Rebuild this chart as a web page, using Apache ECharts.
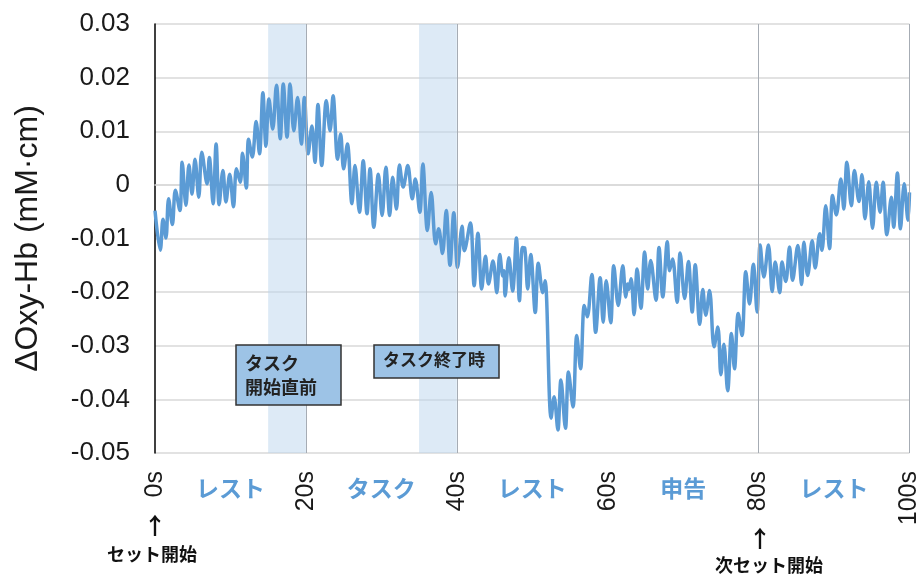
<!DOCTYPE html>
<html>
<head>
<meta charset="utf-8">
<script src="https://cdn.jsdelivr.net/npm/echarts@6/dist/echarts.min.js"></script>
<style>html,body{margin:0;padding:0;background:#fff}#c{width:922px;height:579px}</style>
</head>
<body>
<div id="c"></div>
<script>
// Time (s) of each read extreme of the trace
const timeSec = [
0.0,0.7,1.06,1.45,1.8,2.3,2.7,3.3,3.6,4.1,4.5,4.9,5.3,5.8,6.2,6.9,7.2,7.7,8.1,8.5,
9.0,9.4,9.9,10.4,10.8,11.3,11.6,12.1,12.4,12.9,13.4,13.85,14.3,14.7,15.1,15.6,16.1,16.6,17.0,17.5,
17.9,18.4,18.9,19.4,19.8,20.3,20.8,21.2,21.6,22.1,22.7,23.2,23.6,24.2,24.6,25.0,25.5,26.1,26.5,27.1,
27.6,28.1,28.5,29.0,29.6,30.1,30.6,31.1,31.5,32.0,32.4,32.9,33.5,34.1,34.5,35.1,35.5,36.1,36.6,37.2,
37.6,38.1,38.6,39.1,39.6,40.1,40.7,41.0,41.8,42.3,42.8,43.3,43.8,44.2,44.8,45.3,45.7,46.1,46.25,46.4,
46.9,47.4,47.9,48.3,48.7,49.0,49.4,49.8,50.4,50.8,51.4,51.7,52.5,52.9,53.4,53.8,54.4,54.8,55.4,55.9,
56.4,56.9,57.3,57.9,58.4,59.0,59.4,59.8,60.4,60.8,61.4,62.0,62.4,62.65,62.8,63.1,63.5,63.9,64.4,64.9,
65.3,65.7,66.4,66.8,67.3,67.9,68.2,68.6,69.2,69.6,70.2,70.7,71.2,71.6,72.2,72.6,73.0,73.5,74.1,74.6,
75.0,75.4,75.9,76.4,76.8,77.3,77.8,78.3,78.8,79.3,79.8,80.2,80.7,81.3,81.8,82.2,82.8,83.1,83.6,84.1,
84.5,85.2,85.7,86.0,86.5,87.1,87.5,88.1,88.4,88.9,89.4,89.8,90.3,90.9,91.3,91.7,92.3,92.7,93.3,93.7,
94.1,94.6,95.1,95.6,96.1,96.5,97.0,97.6,97.9,98.4,98.8,99.3,99.8,100.0
];
// ΔOxy-Hb (mM·cm) at those times
const oxyHb = [
-0.0048,-0.0122,-0.0064,-0.0099,-0.0026,-0.0074,-0.0010,-0.0048,0.0042,-0.0038,0.0037,-0.0017,0.0048,-0.0023,0.0061,0.0002,0.0051,-0.0035,0.0076,-0.0037,
0.0027,-0.0032,0.0020,-0.0041,0.0030,0.0005,0.0059,-0.0006,0.0085,0.0052,0.0118,0.0058,0.0172,0.0072,0.0160,0.0104,0.0186,0.0086,0.0188,0.0089,
0.0188,0.0101,0.0163,0.0076,0.0163,0.0058,0.0110,0.0042,0.0150,0.0036,0.0157,0.0101,0.0166,0.0048,0.0095,0.0030,0.0076,-0.0035,0.0036,-0.0051,
0.0045,-0.0054,0.0030,-0.0079,0.0020,-0.0057,0.0033,-0.0057,0.0014,-0.0045,0.0037,-0.0004,0.0036,-0.0026,0.0011,-0.0051,0.0039,-0.0085,-0.0014,-0.0110,
-0.0082,-0.0128,-0.0048,-0.0150,-0.0052,-0.0154,-0.0077,-0.0123,-0.0071,-0.0188,-0.0090,-0.0194,-0.0133,-0.0185,-0.0142,-0.0201,-0.0130,-0.0170,-0.0160,-0.0207,
-0.0136,-0.0198,-0.0099,-0.0216,-0.0117,-0.0118,-0.0194,-0.0130,-0.0238,-0.0146,-0.0201,-0.0179,-0.0435,-0.0395,-0.0457,-0.0364,-0.0454,-0.0349,-0.0414,-0.0281,
-0.0343,-0.0225,-0.0246,-0.0167,-0.0275,-0.0173,-0.0256,-0.0179,-0.0257,-0.0151,-0.0225,-0.0151,-0.0209,-0.0185,-0.0195,-0.0175,-0.0242,-0.0157,-0.0230,-0.0125,
-0.0194,-0.0141,-0.0215,-0.0117,-0.0209,-0.0106,-0.0160,-0.0138,-0.0219,-0.0127,-0.0212,-0.0143,-0.0237,-0.0149,-0.0260,-0.0195,-0.0243,-0.0197,-0.0302,-0.0265,
-0.0354,-0.0297,-0.0384,-0.0277,-0.0343,-0.0240,-0.0281,-0.0162,-0.0222,-0.0148,-0.0237,-0.0112,-0.0172,-0.0112,-0.0199,-0.0144,-0.0201,-0.0144,-0.0180,-0.0116,
-0.0178,-0.0113,-0.0186,-0.0107,-0.0169,-0.0104,-0.0155,-0.0091,-0.0122,-0.0039,-0.0119,-0.0020,-0.0056,0.0011,-0.0045,0.0042,-0.0039,0.0027,-0.0031,0.0019,
-0.0063,0.0006,-0.0081,0.0005,-0.0051,0.0005,-0.0093,-0.0023,-0.0079,0.0022,-0.0082,0.0002,-0.0066,-0.0014
];
const xTicks = [0, 20, 40, 60, 80, 100];
const phaseCenters = [10, 30, 50, 70, 90];
const phaseLabels = ['レスト', 'タスク', 'レスト', '申告', 'レスト'];
const bands = [[15, 20], [35, 40]];
const vLines = [20, 40, 80, 100];
const yTicks = [-0.05, -0.04, -0.03, -0.02, -0.01, 0, 0.01, 0.02, 0.03];

const seriesData = timeSec.map((t, i) => [t, oxyHb[i]]);
const JP = '"Noto Sans CJK JP", "Noto Sans", sans-serif';
const NUM = '"Liberation Sans", Arial, sans-serif';

const chart = echarts.init(document.getElementById('c'));
chart.setOption({
  animation: false,
  backgroundColor: '#fff',
  grid: { left: 155, right: 11, top: 24, bottom: 126 },
  xAxis: [
    {
      type: 'value', min: xTicks[0], max: xTicks[xTicks.length - 1], interval: 20,
      position: 'bottom',
      axisLine: { show: true, lineStyle: { color: '#d9d9d9', width: 1.5 } },
      axisTick: { show: false },
      splitLine: { show: false },
      axisLabel: {
        rotate: 90, margin: 18, fontSize: 25, color: '#1a1a1a', fontFamily: NUM,
        formatter: v => v + 's'
      }
    },
    {
      type: 'value', min: 0, max: 100, interval: 10,
      position: 'bottom', offset: 0,
      axisLine: { show: false }, axisTick: { show: false }, splitLine: { show: false },
      axisLabel: {
        margin: 24, fontSize: 23, fontWeight: 'bold', color: '#5b9bd5', fontFamily: JP,
        formatter: v => {
          const i = phaseCenters.indexOf(v);
          return i >= 0 ? phaseLabels[i] : '';
        }
      }
    }
  ],
  yAxis: {
    type: 'value', min: yTicks[0], max: yTicks[yTicks.length - 1], interval: 0.01,
    name: 'ΔOxy-Hb (mM·cm)', nameLocation: 'middle', nameRotate: 90, nameGap: 111,
    nameTextStyle: { fontSize: 32, color: '#1a1a1a', fontFamily: NUM },
    axisLine: { show: true, lineStyle: { color: '#000', width: 1.5 } },
    axisTick: { show: false },
    splitLine: { show: true, lineStyle: { color: '#d9d9d9', width: 1.5 } },
    axisLabel: {
      margin: 25, fontSize: 26, color: '#1a1a1a', fontFamily: NUM,
      formatter: v => { const r = Math.round(v * 100) / 100; return r === 0 ? '0' : r.toFixed(2); }
    }
  },
  series: [
    {
      type: 'line', data: seriesData, xAxisIndex: 0, smooth: 0.35, symbol: 'none',
      lineStyle: { color: '#5b9bd5', width: 3.5 }, z: 3
    },
    {
      type: 'line', data: [], xAxisIndex: 0, z: 5, silent: true,
      markArea: {
        silent: true,
        itemStyle: { color: 'rgba(189,215,238,0.52)' },
        data: bands.map(b => [{ xAxis: b[0] }, { xAxis: b[1] }])
      },
      markLine: {
        silent: true, symbol: 'none', label: { show: false },
        lineStyle: { color: '#a6acb4', width: 1, type: 'solid' },
        data: vLines.map(x => ({ xAxis: x }))
      }
    }
  ],
  graphic: [
    { type: 'rect', shape: { x: 236, y: 345, width: 105, height: 60 }, z: 10,
      style: { fill: '#9dc3e6', stroke: '#333', lineWidth: 1.5 } },
    { type: 'text', x: 245, y: 351, z: 11,
      style: { text: 'タスク\n開始直前', fill: '#222', font: 'bold 18px ' + JP, lineHeight: 24 } },
    { type: 'rect', shape: { x: 374, y: 345, width: 125, height: 33 }, z: 10,
      style: { fill: '#9dc3e6', stroke: '#333', lineWidth: 1.5 } },
    { type: 'text', x: 383, y: 351, z: 11,
      style: { text: 'タスク終了時', fill: '#222', font: 'bold 17px ' + JP } },
    { type: 'text', x: 155, y: 514, z: 11,
      style: { text: '↑', fill: '#111', font: 'bold 23px ' + JP, textAlign: 'center' } },
    { type: 'text', x: 152, y: 545, z: 11,
      style: { text: 'セット開始', fill: '#111', font: 'bold 18px ' + JP, textAlign: 'center' } },
    { type: 'text', x: 760, y: 527, z: 11,
      style: { text: '↑', fill: '#111', font: 'bold 23px ' + JP, textAlign: 'center' } },
    { type: 'text', x: 769, y: 556, z: 11,
      style: { text: '次セット開始', fill: '#111', font: 'bold 18px ' + JP, textAlign: 'center' } }
  ]
});
</script>
</body>
</html>
